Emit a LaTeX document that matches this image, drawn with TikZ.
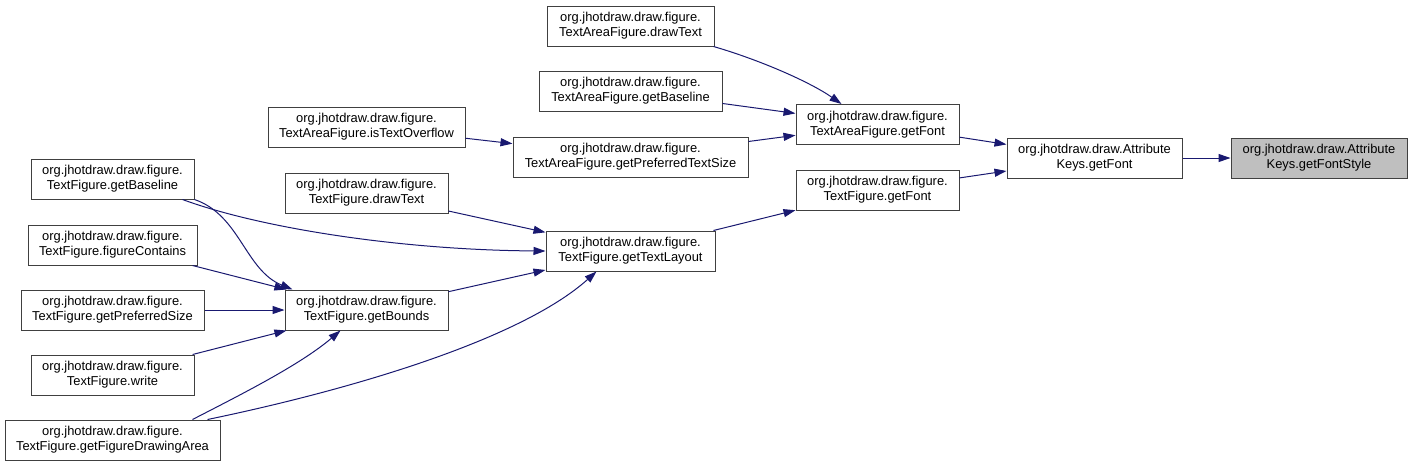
\documentclass[tikz,border=0pt]{standalone}
\usepackage{fontspec}
\setmainfont{Liberation Sans}
\usetikzlibrary{arrows.meta}
\definecolor{edgeblue}{RGB}{25,25,112}
\definecolor{boxline}{RGB}{64,64,64}
\definecolor{hlfill}{RGB}{191,191,191}
\tikzset{
  fn/.style={draw=boxline, line width=1pt, fill=white, rectangle, inner sep=0pt,
    minimum height=40pt, align=center, font=\fontsize{12.9}{15}\selectfont},
  cur/.style={fn, fill=hlfill},
  call/.style={draw=edgeblue, line width=1pt, -{Triangle[length=12pt,width=8pt]}}
}
\begin{document}
\begin{tikzpicture}[x=1pt,y=-1pt]
\useasboundingbox (0,0) rectangle (1412,467);
\node[fn, minimum width=167pt] (A) at (630.5,26) {org.jhotdraw.draw.figure.\\TextAreaFigure.drawText};
\node[fn, minimum width=183pt] (B) at (630.5,91) {org.jhotdraw.draw.figure.\\TextAreaFigure.getBaseline};
\node[fn, minimum width=235pt] (C) at (630.5,157) {org.jhotdraw.draw.figure.\\TextAreaFigure.getPreferredTextSize};
\node[fn, minimum width=163pt] (D) at (877.5,124.5) {org.jhotdraw.draw.figure.\\TextAreaFigure.getFont};
\node[fn, minimum width=163pt] (E) at (877.5,190) {org.jhotdraw.draw.figure.\\TextFigure.getFont};
\node[fn, minimum width=169pt] (F) at (630.5,251) {org.jhotdraw.draw.figure.\\TextFigure.getTextLayout};
\node[fn, minimum width=175pt] (G) at (1094.5,158) {org.jhotdraw.draw.Attribute\\Keys.getFont};
\node[cur, minimum width=176pt] (H) at (1319,158) {org.jhotdraw.draw.Attribute\\Keys.getFontStyle};
\node[fn, minimum width=197pt] (I) at (366.5,127) {org.jhotdraw.draw.figure.\\TextAreaFigure.isTextOverflow};
\node[fn, minimum width=163pt] (J) at (112.5,179) {org.jhotdraw.draw.figure.\\TextFigure.getBaseline};
\node[fn, minimum width=163pt] (K) at (366.5,193) {org.jhotdraw.draw.figure.\\TextFigure.drawText};
\node[fn, minimum width=169pt] (L) at (112.5,245) {org.jhotdraw.draw.figure.\\TextFigure.figureContains};
\node[fn, minimum width=163pt] (M) at (366.5,310) {org.jhotdraw.draw.figure.\\TextFigure.getBounds};
\node[fn, minimum width=183pt] (N) at (112.5,310) {org.jhotdraw.draw.figure.\\TextFigure.getPreferredSize};
\node[fn, minimum width=163pt] (O) at (112.5,375) {org.jhotdraw.draw.figure.\\TextFigure.write};
\node[fn, minimum width=215pt] (P) at (112.5,440) {org.jhotdraw.draw.figure.\\TextFigure.getFigureDrawingArea};
% edges
\draw[call] (A.south east) ++(-1,0) coordinate (a0) (a0) .. controls (760,60) and (810,82) .. ([xshift=-36pt]D.north);
\draw[call] (B) -- (D);
\draw[call] (C) -- (D);
\draw[call] (I) -- (C);
\draw[call] (D) -- (G);
\draw[call] (E) -- (G);
\draw[call] (G) -- (H);
\draw[call] (F) -- (E);
\draw[call] (K) -- (F);
\draw[call] (M) -- (F);
\draw[call] ([xshift=-12pt]J.south east) .. controls (260,228) and (400,250) .. (F.west);
\draw[call] (J.south east) .. controls (240,215) and (245,270) .. ([xshift=8pt]M.north west);
\draw[call] (L) -- (M);
\draw[call] (N) -- (M);
\draw[call] (O) -- (M);
\draw[call] ([xshift=80pt]P.north) .. controls (240,395) and (300,365) .. ([xshift=-26pt]M.south);
\draw[call] ([xshift=95pt]P.north) .. controls (350,390) and (520,340) .. ([xshift=-34pt]F.south);
\end{tikzpicture}
\end{document}
